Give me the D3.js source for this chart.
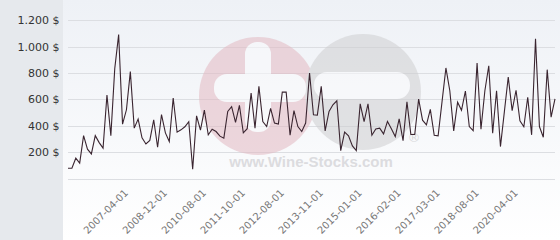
<!DOCTYPE html>
<html>
<head>
<meta charset="utf-8">
<script src="https://cdn.jsdelivr.net/npm/d3@7"></script>
<style>
  html, body { margin: 0; padding: 0; background: #ffffff; }
  svg { display: block; }
</style>
</head>
<body>
<div id="chart"></div>
<script>
// ---- data ----
const prices = [
  78, 78, 154, 116, 325, 222, 186, 325, 272, 230,
  633, 325, 833, 1091, 412, 521, 810, 382, 450, 308,
  262, 289, 445, 237, 485, 346, 280, 610, 351, 369,
  392, 430, 70, 475, 366, 519, 331, 374, 356, 321,
  306, 508, 544, 426, 554, 346, 378, 648, 382, 698,
  432, 394, 531, 420, 412, 655, 655, 328, 515, 394,
  356, 420, 800, 483, 480, 698, 361, 508, 559, 589,
  211, 351, 323, 247, 211, 566, 432, 566, 328, 376,
  382, 338, 433, 378, 318, 452, 287, 581, 334, 334,
  602, 442, 407, 524, 328, 323, 581, 838, 665, 361,
  578, 517, 663, 394, 362, 876, 374, 665, 855, 344,
  665, 242, 505, 769, 515, 669, 437, 392, 616, 331,
  1059, 394, 313, 825, 465, 603
];
const tickLabels = ["2007-04-01", "2008-12-01", "2010-08-01", "2011-10-01", "2012-08-01",
  "2013-11-01", "2015-01-01", "2016-02-01", "2017-03-01", "2018-08-01", "2020-04-01"];
const tickIndexes = [16, 26, 36, 46, 56, 66, 76, 86, 96, 106, 116];
const yTicks = [200, 400, 600, 800, 1000, 1200];

// ---- layout ----
const W = 560, H = 240;
const panelW = 63;
const plot = { left: 68, right: 555, top: 20.2, bottom: 178.5 };

const svg = d3.select("#chart").append("svg").attr("width", W).attr("height", H);
const defs = svg.append("defs");
const grad = defs.append("linearGradient").attr("id", "bg").attr("x1", 0).attr("y1", 0).attr("x2", 0).attr("y2", 1);
grad.append("stop").attr("offset", "0%").attr("stop-color", "#eef1f6");
grad.append("stop").attr("offset", "100%").attr("stop-color", "#ffffff");

svg.append("rect").attr("x", 0).attr("y", 0).attr("width", W).attr("height", H).attr("fill", "url(#bg)");
svg.append("rect").attr("x", 0).attr("y", 0).attr("width", panelW).attr("height", H).attr("fill", "#e6e9ed");

const x = d3.scaleLinear().domain([0, prices.length - 1]).range([plot.left, plot.right]);
const y = d3.scaleLinear().domain([0, 1200]).range([plot.bottom, plot.top]);

// gridlines
svg.append("g").selectAll("line").data([0].concat(yTicks)).join("line")
  .attr("x1", plot.left).attr("x2", plot.right)
  .attr("y1", d => Math.round(y(d)) + 0.5).attr("y2", d => Math.round(y(d)) + 0.5)
  .attr("stroke", "#dcdee2").attr("stroke-width", 1);

// watermark
const wm = svg.append("g").attr("opacity", 0.55);
wm.append("circle").attr("cx", 258).attr("cy", 96).attr("r", 59).attr("fill", "#e3b9c2");
wm.append("circle").attr("cx", 363).attr("cy", 92).attr("r", 58).attr("fill", "#cfcfd1");
wm.append("rect").attr("x", 214).attr("y", 74).attr("width", 92).attr("height", 28).attr("rx", 13).attr("fill", "#fafafc");
wm.append("rect").attr("x", 245).attr("y", 42).attr("width", 26).attr("height", 90).attr("rx", 12).attr("fill", "#fafafc");
wm.append("rect").attr("x", 314).attr("y", 72).attr("width", 96).attr("height", 27).attr("rx", 13).attr("fill", "#fafafc");
wm.append("text").attr("x", 414).attr("y", 142).attr("text-anchor", "middle")
  .attr("font-family", "DejaVu Sans, sans-serif").attr("font-size", 13).attr("fill", "#bdbdc0").text("®");
svg.append("text").attr("x", 311).attr("y", 167).attr("text-anchor", "middle")
  .attr("font-family", "Liberation Sans, Arial, sans-serif").attr("font-weight", "bold")
  .attr("font-size", 15).attr("fill", "#dcdcdf").text("www.Wine-Stocks.com");

// y labels
const yAxis = d3.axisLeft(y).tickValues(yTicks).tickSize(0).tickPadding(0)
  .tickFormat(d => d3.format(",")(d).replace(/,/g, ".") + " $");
const gy = svg.append("g").attr("transform", "translate(59.5,0)").call(yAxis);
gy.select(".domain").remove();
gy.selectAll("text").attr("font-family", "DejaVu Sans, sans-serif").attr("font-size", 11).attr("fill", "#333");

// x labels
const xAxis = d3.axisBottom(x).tickValues(tickIndexes).tickSize(0).tickPadding(0)
  .tickFormat((d, i) => tickLabels[i]);
const gx = svg.append("g").attr("transform", `translate(-2,${plot.bottom + 15})`).call(xAxis);
gx.select(".domain").remove();
gx.selectAll("text")
  .attr("font-family", "DejaVu Sans, sans-serif").attr("font-size", 10).attr("fill", "#777")
  .attr("text-anchor", "end").attr("dy", "0").attr("y", 0)
  .attr("transform", "rotate(-45)");

// line
const line = d3.line().x((d, i) => x(i)).y(d => y(d));
svg.append("path").datum(prices).attr("d", line)
  .attr("fill", "none").attr("stroke", "#3a2530").attr("stroke-width", 1.1).attr("stroke-linejoin", "miter");
</script>
</body>
</html>
